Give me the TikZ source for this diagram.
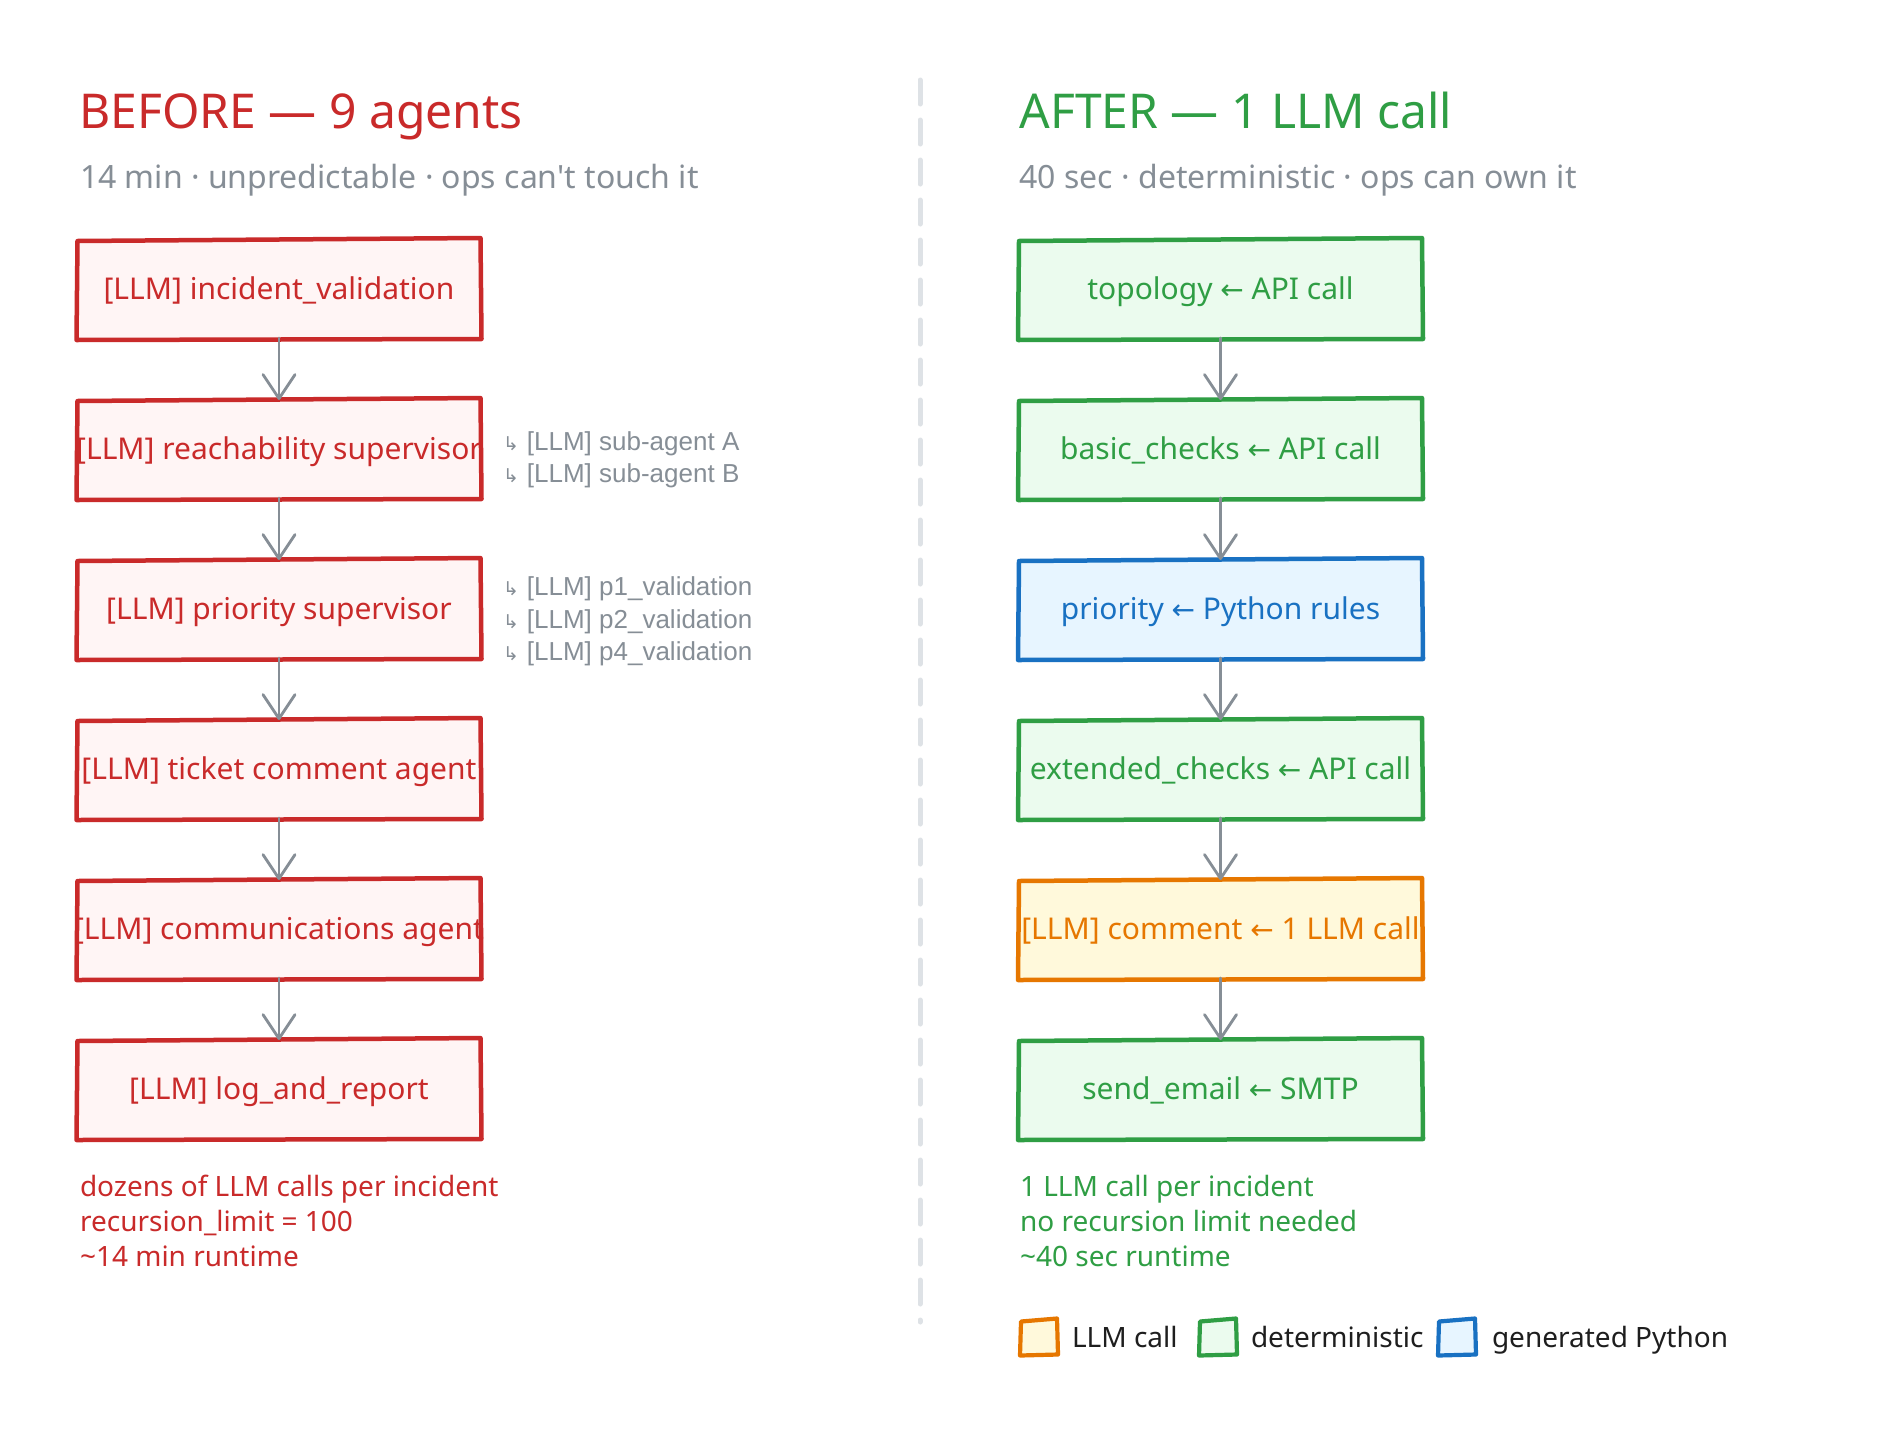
\documentclass[tikz,border=0pt]{standalone}
\usepackage{fontspec}
\setmainfont{Noto Sans}
\newfontfamily\subfont{Liberation Sans}
\newfontfamily\symfont{DejaVu Sans}
\usetikzlibrary{arrows.meta,calc}

\definecolor{redc}{HTML}{C92A2A}
\definecolor{redf}{HTML}{FFF5F5}
\definecolor{grnc}{HTML}{2F9E44}
\definecolor{grnf}{HTML}{EBFBEE}
\definecolor{bluc}{HTML}{1971C2}
\definecolor{bluf}{HTML}{E7F5FF}
\definecolor{orgc}{HTML}{E67700}
\definecolor{orgf}{HTML}{FFF9DB}
\definecolor{grayt}{HTML}{868E96}
\definecolor{divc}{HTML}{DEE2E6}
\definecolor{inkc}{HTML}{1E1E1E}

\newcommand\larr{{\symfont\fontsize{28}{30}\selectfont ←}}
\newcommand\cbox[1]{\makebox[0pt]{#1}}
\newcommand\hook{{\symfont\fontsize{19}{19}\selectfont ↳}\hspace{8pt}}
\newcommand\sketchframe[3][4.5pt]{%
  \draw[#3, line width=#1, line cap=round, line join=round]
    ($(#2.north west)+(-1,1)$) -- ($(#2.north east)+(1,-2)$)
    -- ($(#2.south east)+(2,1)$) -- ($(#2.south west)+(-2,2)$) -- cycle;}

\begin{document}
\begin{tikzpicture}[x=1pt,y=-1pt,
  every node/.style={inner sep=0pt, outer sep=0pt},
  box/.style={minimum width=401pt, minimum height=98pt, text height=21.4pt, text depth=0pt, font=\fontsize{30}{36}\selectfont},
  redbox/.style={box, fill=redf, text=redc},
  grnbox/.style={box, fill=grnf, text=grnc},
  blubox/.style={box, fill=bluf, text=bluc},
  orgbox/.style={box, fill=orgf, text=orgc},
  flow/.style={draw=grayt, line width=2.8pt, line cap=round, -{Straight Barb[length=24pt,width=32pt,round]}},
  title/.style={anchor=base west, font=\fontsize{48}{56}\selectfont},
  subtitle/.style={anchor=base west, font=\fontsize{32}{38}\selectfont, text=grayt},
  note/.style={anchor=base west, font=\fontsize{28}{34}\selectfont},
  subag/.style={anchor=base west, font=\subfont\fontsize{26}{30}\selectfont, text=grayt},
  legbox/.style={minimum width=34pt, minimum height=33pt},
  divider/.style={draw=divc, line width=5pt, line cap=round, dash pattern=on 24pt off 16pt},
]
\useasboundingbox (0,0) rectangle (1892,1440);
\fill[white] (0,0) rectangle (1892,1440);

% divider
\coordinate (dtop) at (920,80);
\coordinate (dbot) at (920,1322);
\draw[divider] (dtop) -- (dbot);

% titles
\node[title, text=redc] (tL) at (79.5,128) {BEFORE — 9 agents};
\node[subtitle] (sL) at (80,188) {14 min · unpredictable · ops can\textquotesingle t touch it};
\node[title, text=grnc] (tR) at (1019.5,128) {AFTER — 1 LLM call};
\node[subtitle] (sR) at (1019.5,188) {40 sec · deterministic · ops can own it};

% left column
\node[redbox] (b1) at (279,289) {\cbox{[LLM] incident\_validation}};
\node[redbox] (b2) at (279,449) {\cbox{[LLM] reachability supervisor}};
\node[redbox] (b3) at (279,609) {\cbox{[LLM] priority supervisor}};
\node[redbox] (b4) at (279,769) {\cbox{[LLM] ticket comment agent}};
\node[redbox] (b5) at (279,929) {\cbox{[LLM] communications agent}};
\node[redbox] (b6) at (279,1089) {\cbox{[LLM] log\_and\_report}};
\foreach \n in {b1,b2,b3,b4,b5,b6} {\sketchframe{\n}{redc}}
\draw[flow] (b1) -- (b2);
\draw[flow] (b2) -- (b3);
\draw[flow] (b3) -- (b4);
\draw[flow] (b4) -- (b5);
\draw[flow] (b5) -- (b6);

% sub agents
\node[subag] (sa) at (503,450) {\hook[LLM] sub-agent A};
\node[subag] (sb) at (503,482.6) {\hook[LLM] sub-agent B};
\node[subag] (p1) at (503,595.4) {\hook[LLM] p1\_validation};
\node[subag] (p2) at (503,628) {\hook[LLM] p2\_validation};
\node[subag] (p4) at (503,660.6) {\hook[LLM] p4\_validation};

% right column
\node[grnbox] (r1) at (1220.5,289) {\cbox{topology \larr{} API call}};
\node[grnbox] (r2) at (1220.5,449) {\cbox{basic\_checks \larr{} API call}};
\node[blubox] (r3) at (1220.5,609) {\cbox{priority \larr{} Python rules}};
\node[grnbox] (r4) at (1220.5,769) {\cbox{extended\_checks \larr{} API call}};
\node[orgbox] (r5) at (1220.5,929) {\cbox{[LLM] comment \larr{} 1 LLM call}};
\node[grnbox] (r6) at (1220.5,1089) {\cbox{send\_email \larr{} SMTP}};
\sketchframe{r1}{grnc}
\sketchframe{r2}{grnc}
\sketchframe{r3}{bluc}
\sketchframe{r4}{grnc}
\sketchframe{r5}{orgc}
\sketchframe{r6}{grnc}
\draw[flow] (r1) -- (r2);
\draw[flow] (r2) -- (r3);
\draw[flow] (r3) -- (r4);
\draw[flow] (r4) -- (r5);
\draw[flow] (r5) -- (r6);

% footers
\node[note, text=redc] (fl1) at (80,1196) {dozens of LLM calls per incident};
\node[note, text=redc] (fl2) at (80,1231) {recursion\_limit = 100};
\node[note, text=redc] (fl3) at (80,1266) {\textasciitilde 14 min runtime};
\node[note, text=grnc] (fr1) at (1020,1196) {1 LLM call per incident};
\node[note, text=grnc] (fr2) at (1020,1231) {no recursion limit needed};
\node[note, text=grnc] (fr3) at (1020,1266) {\textasciitilde 40 sec runtime};

% legend
\node[legbox, fill=orgf] (lg1) at (1039,1337) {};
\node[legbox, fill=grnf] (lg2) at (1218,1337) {};
\node[legbox, fill=bluf] (lg3) at (1457,1337) {};
\sketchframe[4.2pt]{lg1}{orgc}
\sketchframe[4.2pt]{lg2}{grnc}
\sketchframe[4.2pt]{lg3}{bluc}
\node[note, text=inkc] (lt1) at (1072,1347) {LLM call};
\node[note, text=inkc] (lt2) at (1251,1347) {deterministic};
\node[note, text=inkc] (lt3) at (1492,1347) {generated Python};
\end{tikzpicture}
\end{document}
